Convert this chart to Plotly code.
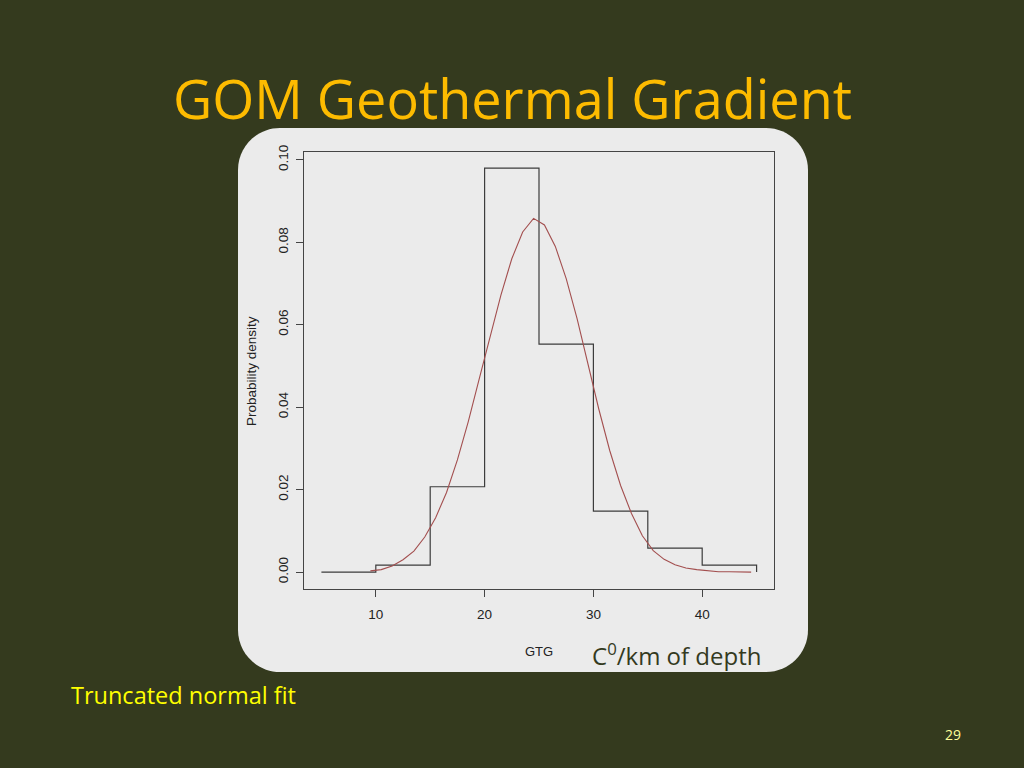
import plotly.graph_objects as go

# Histogram (bin edges and densities)
bin_edges = [5, 10, 15, 20, 25, 30, 35, 40, 45]
densities = [0.0, 0.0017, 0.0207, 0.0980, 0.0553, 0.0148, 0.0058, 0.0017]

# Truncated normal fit curve
fit_x = [9.5, 10.5, 11.5, 12.5, 13.5, 14.5, 15.5, 16.5, 17.5, 18.5, 19.5,
         20.5, 21.5, 22.5, 23.5, 24.5, 25.5, 26.5, 27.5, 28.5, 29.5, 30.5,
         31.5, 32.5, 33.5, 34.5, 35.5, 36.5, 37.5, 38.5, 39.5, 40.5, 41.5,
         42.5, 43.5, 44.5]
fit_y = [0.0003, 0.0006, 0.0015, 0.0030, 0.0051, 0.0085, 0.0132, 0.0193,
         0.0272, 0.0365, 0.0468, 0.0570, 0.0672, 0.0760, 0.0825, 0.0858,
         0.0842, 0.0790, 0.0712, 0.0615, 0.0505, 0.0395, 0.0295, 0.0210,
         0.0142, 0.0088, 0.0052, 0.0031, 0.0018, 0.0010, 0.0006, 0.0003,
         0.0001, 0.0001, 0.0000, 0.0000]

x_ticks = [10, 20, 30, 40]
y_ticks = [0.00, 0.02, 0.04, 0.06, 0.08, 0.10]
y_tick_labels = ["0.00", "0.02", "0.04", "0.06", "0.08", "0.10"]

BG = "#343a1e"
PANEL = "#ebebeb"

W, H = 1024, 768
L, R, T, B = 304, 250, 152, 179
PW, PH = W - L - R, H - T - B


def px2paper(px, py):
    return (px - L) / PW, (H - B - py) / PH


step_x = bin_edges + [bin_edges[-1]]
step_y = densities + [densities[-1], 0.0]

fig = go.Figure()
fig.add_trace(go.Scatter(x=step_x, y=step_y, mode="lines", line_shape="hv",
                         line=dict(color="#3c3c3c", width=1.2),
                         showlegend=False, hoverinfo="skip"))
fig.add_trace(go.Scatter(x=fit_x, y=fit_y, mode="lines",
                         line=dict(color="#a34f4f", width=1.1),
                         showlegend=False))

# rounded panel behind the plot
x0, y0 = px2paper(238, 672)
x1, y1 = px2paper(808, 128)
r = 42
rx, ry = r / PW, r / PH
k = 0.45
path = (f"M {x0+rx},{y0} L {x1-rx},{y0} "
        f"C {x1-rx*k},{y0} {x1},{y0+ry*k} {x1},{y0+ry} "
        f"L {x1},{y1-ry} "
        f"C {x1},{y1-ry*k} {x1-rx*k},{y1} {x1-rx},{y1} "
        f"L {x0+rx},{y1} "
        f"C {x0+rx*k},{y1} {x0},{y1-ry*k} {x0},{y1-ry} "
        f"L {x0},{y0+ry} "
        f"C {x0},{y0+ry*k} {x0+rx*k},{y0} {x0+rx},{y0} Z")

fig.add_shape(type="path", path=path, xref="paper", yref="paper",
              fillcolor=PANEL, line=dict(width=0), layer="below")

axis_font = dict(family="Liberation Sans, Arial", size=13.5, color="#222222")

fig.update_layout(
    width=W, height=H,
    margin=dict(l=L, r=R, t=T, b=B, pad=0),
    paper_bgcolor=BG,
    plot_bgcolor="rgba(0,0,0,0)",
    xaxis=dict(range=[3.4, 46.6], tickvals=x_ticks, ticks="outside",
               ticklen=7, tickcolor="#444", tickwidth=1,
               ticklabelstandoff=6,
               showgrid=False, zeroline=False, showline=True, mirror=True,
               linecolor="#444", linewidth=1.2, tickfont=axis_font,
               fixedrange=True),
    yaxis=dict(range=[-0.0041, 0.1019], tickvals=y_ticks,
               ticktext=y_tick_labels, tickangle=-90, ticks="outside",
               ticklen=7, tickcolor="#444", tickwidth=1,
               ticklabelstandoff=3,
               showgrid=False, zeroline=False, showline=True, mirror=True,
               linecolor="#444", linewidth=1.2, tickfont=axis_font,
               fixedrange=True),
    font=dict(family="Liberation Sans, Arial"),
)

ann = []
# slide title
tx, ty = px2paper(512, 98)
ann.append(dict(text="GOM Geothermal Gradient", x=tx, y=ty, xref="paper",
                yref="paper", showarrow=False, xanchor="center",
                yanchor="middle",
                font=dict(family="Open Sans", size=54, color="#fdbb00")))
# y axis title
ax_, ay_ = px2paper(251, 371)
ann.append(dict(text="Probability density", x=ax_, y=ay_, xref="paper",
                yref="paper", showarrow=False, textangle=-90,
                xanchor="center", yanchor="middle",
                font=dict(family="Liberation Sans, Arial", size=13.5,
                          color="#222222")))
# x axis title
gx, gy = px2paper(539, 651)
ann.append(dict(text="GTG", x=gx, y=gy, xref="paper", yref="paper",
                showarrow=False, xanchor="center", yanchor="middle",
                font=dict(family="Liberation Sans, Arial", size=13,
                          color="#222222")))
# unit label
ux, uy = px2paper(676, 654)
ann.append(dict(text="C<sup>0</sup>/km of depth", x=ux, y=uy, xref="paper",
                yref="paper", showarrow=False, xanchor="center",
                yanchor="middle",
                font=dict(family="Open Sans", size=24, color="#343a1e")))
# caption
cx, cy = px2paper(69, 695)
ann.append(dict(text="Truncated normal fit", x=cx, y=cy, xref="paper",
                yref="paper", showarrow=False, xanchor="left",
                yanchor="middle",
                font=dict(family="Open Sans", size=23.5, color="#ffff00")))
# page number
nx, ny = px2paper(953, 734)
ann.append(dict(text="29", x=nx, y=ny, xref="paper", yref="paper",
                showarrow=False, xanchor="center", yanchor="middle",
                font=dict(family="Open Sans", size=14, color="#ffff99")))

fig.update_layout(annotations=ann)
fig.write_html("out.html", config={"displayModeBar": False})

# remove the default page margin so the figure sits at the window origin
with open("out.html", "r", encoding="utf-8") as f:
    html = f.read()
html = html.replace(
    "<head>",
    "<head><style>html,body{margin:0;padding:0;background:#343a1e;"
    "overflow:hidden}</style>", 1)
with open("out.html", "w", encoding="utf-8") as f:
    f.write(html)
